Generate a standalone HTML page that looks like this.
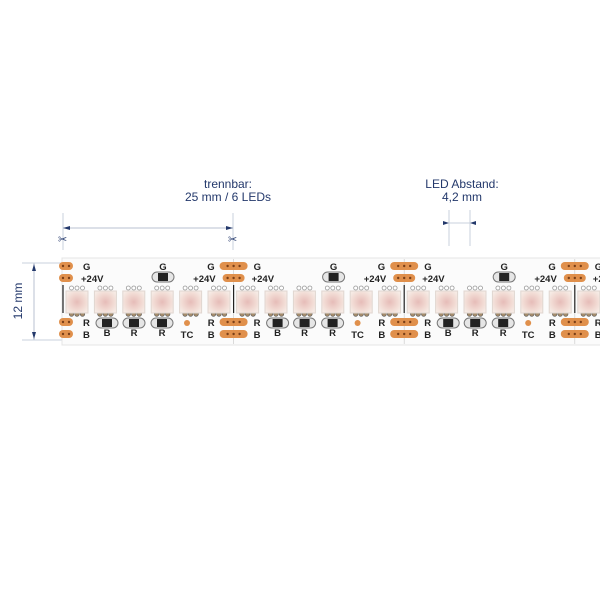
<!DOCTYPE html>
<html><head><style>
html,body{margin:0;padding:0;background:#fff;width:600px;height:600px;overflow:hidden}
svg{display:block}
text{font-family:"Liberation Sans",sans-serif}
</style></head><body>
<svg id="s" width="600" height="600" xmlns="http://www.w3.org/2000/svg">
<defs>
<radialGradient id="led" cx="50%" cy="50%" r="60%">
<stop offset="0" stop-color="#e6bcb8"/><stop offset="0.6" stop-color="#f1d9d2"/><stop offset="1" stop-color="#f6ebe5"/>
</radialGradient>
</defs>
<rect x="0" y="0" width="600" height="600" fill="#fff"/>
<g fill="#23386b" font-size="12" text-anchor="middle">
<text x="228" y="188">trennbar:</text>
<text x="228" y="201">25 mm / 6 LEDs</text>
<text x="462" y="188">LED Abstand:</text>
<text x="462" y="201">4,2 mm</text>
</g>
<g stroke="#c8d0dc" stroke-width="1">
<line x1="63" y1="213" x2="63" y2="250"/>
<line x1="233" y1="213" x2="233" y2="250"/>
<line x1="63" y1="228" x2="233" y2="228" stroke="#b8c2d2"/>
<line x1="449" y1="210" x2="449" y2="246"/>
<line x1="470" y1="210" x2="470" y2="246"/>
<line x1="449" y1="223" x2="470" y2="223"/>
<line x1="22" y1="263" x2="62" y2="263"/>
<line x1="22" y1="340" x2="62" y2="340"/>
<line x1="34" y1="263" x2="34" y2="340" stroke="#b8c2d2"/>
</g>
<g fill="#23386b">
<polygon points="63,228 70,226 70,230"/>
<polygon points="233,228 226,226 226,230"/>
<polygon points="449,223 443,221 443,225"/>
<polygon points="470,223 476,221 476,225"/>
<polygon points="34,264 32,271 36,271"/>
<polygon points="34,339 32,332 36,332"/>
</g>
<g fill="#23386b" font-size="11">
<text x="58" y="243">✂</text><text x="228" y="243">✂</text>
</g>
<text x="0" y="0" transform="translate(22,301) rotate(-90)" fill="#23386b" font-size="12" text-anchor="middle">12 mm</text>
<rect x="62" y="258" width="540" height="87" fill="#fbfbfb" stroke="#e4e4e4"/>
<g id="g"></g>
</svg>
<script>
var g=document.getElementById('g'),h='';
function pill(x,y,w){h+='<rect x="'+(x-w/2)+'" y="'+(y-4)+'" width="'+w+'" height="8" rx="4" fill="#e0904c"/>';
 var n=w<20?2:3;for(var k=0;k<n;k++)h+='<circle cx="'+(x+(k-(n-1)/2)*6)+'" cy="'+y+'" r="1.2" fill="#7a3f18"/>';}
function t(x,y,s,a){h+='<text x="'+x+'" y="'+y+'" font-size="9.5" font-weight="bold" fill="#222" text-anchor="'+(a||'middle')+'">'+s+'</text>';}
function res(x,y){h+='<rect x="'+(x-11)+'" y="'+(y-5)+'" width="22" height="10" rx="5" fill="#e6e6e6" stroke="#777"/><rect x="'+(x-5)+'" y="'+(y-4)+'" width="10" height="8" fill="#222"/>';}
var P=170.6;
for(var s=0;s<4;s++){
 var c=63+s*P;
 if(c<600){
  if(s>0)h+='<line x1="'+c+'" y1="259" x2="'+c+'" y2="344" stroke="#ccc" stroke-width="0.7"/>';
  h+='<line x1="'+c+'" y1="285" x2="'+c+'" y2="313" stroke="#222" stroke-width="1.2"/>';
  var w=s==0?14:28;var px=s==0?c+3:c;var w2=s==0?14:22;
  pill(px,266,w);pill(px,278,w2);pill(px,322,w);pill(px,334,w);
  if(s>0){t(c-19,270,'G','end');t(c-18,282,'+24V','end');t(c-19,326,'R','end');t(c-19,338,'B','end');}
  t(c+20,270,'G','start');t(c+18,282,'+24V','start');t(c+20,326,'R','start');t(c+20,338,'B','start');
 }
 for(var i=0;i<6;i++){
  var x=c+14+28.4*i; if(x>610)continue;
  for(var k=-1;k<=1;k++){h+='<circle cx="'+(x+k*5.5)+'" cy="'+288+'" r="2" fill="#fff" stroke="#999" stroke-width="0.8"/>';
   h+='<circle cx="'+(x+k*5.5)+'" cy="'+314+'" r="2.3" fill="#a58c6c" stroke="#555" stroke-width="0.6"/>';}
  h+='<rect x="'+(x-11)+'" y="'+291+'" width="22" height="22" fill="url(#led)" stroke="#e0d6d0"/>';
 }
 res(c+100,277);t(c+100,270,'G');
 res(c+44,323);t(c+44,336,'B');res(c+71,323);t(c+71,336,'R');res(c+99,323);t(c+99,336,'R');
 h+='<circle cx="'+(c+124)+'" cy="323" r="3" fill="#e0904c"/>';t(c+124,338,'TC');
}
g.innerHTML=h;
</script>
</body></html>
